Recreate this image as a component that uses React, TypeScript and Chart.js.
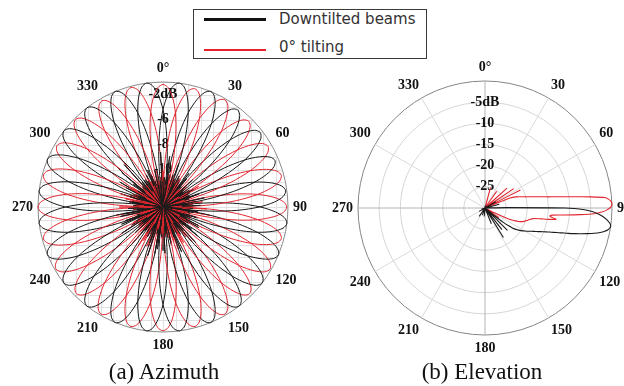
import React, { useEffect, useRef } from 'react';
import { Chart, registerables } from 'chart.js';

Chart.register(...registerables);

// ---------- shared ----------
const ANGLE_TEXT = ['0°', '30', '60', '90', '120', '150', '180', '210', '240', '270', '300', '330'];
const BLACK = '#1a1a1a';
const RED = '#e2262f';

// ---------- (a) Azimuth ----------
const AZ_STEP = 2.5;
const AZ_ANGLES = Array.from({ length: 360 / AZ_STEP }, (_, i) => i * AZ_STEP);
const AZ_MIN = -11;
const AZ_MAX = -1;
const AZ_TICK_VALUES = [-2, -4, -6, -8];
const AZ_TICK_TEXT = ['-2dB', '-6', '-8', '-10'];

const AZ_RED_DIRS = [0, 15, 30, 45, 60, 75, 90, 105, 120, 135, 150, 165, 180, 195, 210, 225, 240, 255, 270, 285, 300, 315, 330, 345];
const AZ_RED_PEAK = [-1.2, -1.2, -1.1, -1.3, -1.3, -1.2, -1.1, -1.2, -1.1, -1.2, -1.1, -1.1, -1.1, -1.1, -1.1, -1.2, -1.1, -1.1, -1.0, -1.1, -1.2, -1.1, -1.2, -1.1];
const AZ_RED_SIDE = [0.4, 0, 0.3, 0, 0.5, 0, 0.2, 0, 1.4, 0, 0.3, 0, 1.2, 0, 0.4, 0, 1.6, 0, 0.6, 0, 0.3, 0, 0.8, 0];
const AZ_BLACK_DIRS = [7.5, 22.5, 37.5, 52.5, 67.5, 82.5, 97.5, 112.5, 127.5, 142.5, 157.5, 172.5, 187.5, 202.5, 217.5, 232.5, 247.5, 262.5, 277.5, 292.5, 307.5, 322.5, 337.5, 352.5];
const AZ_BLACK_PEAK = [-1.0, -1.0, -1.2, -1.2, -1.3, -1.1, -1.0, -1.0, -1.0, -1.0, -1.0, -1.0, -1.0, -1.0, -1.0, -1.0, -1.0, -1.0, -1.0, -1.0, -1.0, -1.0, -1.0, -1.0];
const AZ_BLACK_SIDE = [0.6, 0, 0.3, 0, 0.8, 0, 1.0, 0, 0.4, 0, 1.5, 0, 0.5, 0, 1.7, 0, 0.6, 0, 1.1, 0, 0.4, 0, 2.2, 0.5];

// one beam pattern (offset from beam direction in degrees -> level); main lobe = offsets within ±15
const AZ_PATTERN_OFFSETS = [-50, -37.5, -27.5, -20, -15, -12.5, -10, -7.5, -5, -2.5, 0, 2.5, 5, 7.5, 10, 12.5, 15, 20, 30, 42.5, 180];
const AZ_PATTERN_DB = [-9.6, -9.2, -8.9, -8.6, -9.8, -7.1, -4.9, -3.2, -2.0, -1.25, -1.0, -1.25, -2.0, -3.2, -4.9, -7.1, -9.8, -8.8, -9.1, -9.5, -9.3];
const AZ_PATTERN_PEAK = -1.0;
const AZ_MAIN_HALF = 15;

// ---------- (b) Elevation ----------
const EL_ANGLES = Array.from({ length: 360 }, (_, i) => i);
const EL_MIN = -30;
const EL_MAX = 0;
const EL_TICK_VALUES = [-5, -10, -15, -20, -25];
const EL_TICK_TEXT = ['-5dB', '-10', '-15', '-20', '-25'];

const EL_BLACK_ANGLES = [60, 75, 89, 90, 91, 92, 93, 94, 95, 96, 97, 98, 99, 100, 101, 102, 103, 104, 105, 106, 107, 108, 109, 110, 111, 112, 113, 114, 115, 116, 117, 118, 119, 120, 121, 122, 123, 124, 125, 126, 127, 128, 129, 135, 142, 148, 158, 185, 200, 215, 240];
const EL_BLACK_DB = [-27, -26.5, -25, -11, -6.5, -4.5, -3.2, -2.2, -1.4, -0.8, -0.3, 0, -0.1, -0.5, -1.2, -2.2, -3.5, -5, -6.5, -8, -9.5, -11, -12.2, -13.3, -14.2, -15, -15.7, -16.3, -16.9, -17.4, -17.9, -18.3, -18.7, -19.1, -19.5, -19.9, -20.3, -20.8, -21.3, -22, -23, -24.5, -27, -22.5, -23.5, -21.8, -26, -28, -28.2, -27.6, -28.4];

const EL_RED_ANGLES = [15, 35, 48, 56, 63, 68, 69, 70, 71, 72, 73, 74, 75, 76, 77, 78, 79, 80, 81, 82, 83, 84, 85, 86, 87, 88, 89, 90, 91, 92, 93, 94, 95, 96, 97, 98, 99, 100, 101, 102, 103, 104, 105, 106, 107, 108, 109, 110, 111, 112, 113, 114, 115, 116, 117, 125];
const EL_RED_DB = [-25, -25.2, -23, -21.8, -20.6, -24, -23, -22.3, -21.9, -21.4, -20.9, -20.4, -19.8, -19, -18.2, -17.3, -16.1, -14.8, -13.1, -11, -8.3, -4.8, -1.6, -0.7, -0.2, 0, -0.1, -0.5, -1.3, -2.4, -4.2, -7.5, -11, -14, -14.6, -14, -13, -14.5, -16.5, -18, -18.6, -19, -19.3, -19.5, -19.8, -20, -20.3, -20.6, -21, -21.5, -22.2, -23, -24, -25.5, -27.5, -26];

// ---------- series builders ----------
function beamSeries(dir: number, peak: number, sideLift: number): number[] {
  const out = AZ_ANGLES.map(() => AZ_MIN);
  AZ_PATTERN_OFFSETS.forEach((off, k) => {
    const a = (((dir + off) % 360) + 360) % 360;
    const idx = Math.round(a / AZ_STEP) % AZ_ANGLES.length;
    const lift = Math.abs(off) <= AZ_MAIN_HALF ? peak - AZ_PATTERN_PEAK : sideLift;
    out[idx] = Math.max(AZ_MIN, Math.min(AZ_MAX, AZ_PATTERN_DB[k] + lift));
  });
  return out;
}

function sparseSeries(angles: number[], values: number[]): number[] {
  const out = EL_ANGLES.map(() => EL_MIN);
  angles.forEach((a, k) => { out[a] = values[k]; });
  return out;
}

const labelFont = { family: '"Liberation Serif", "Times New Roman", serif', size: 14, weight: 'bold' as const };

function pointLabelText(label: any) {
  const a = Number(label);
  return a % 30 === 0 ? ANGLE_TEXT[a / 30] : '';
}

const cartesianGrid = {
  id: 'cartesianGrid',
  beforeDraw(chart: any) {
    const s = chart.scales.r;
    const ctx = chart.ctx;
    const cx = s.xCenter, cy = s.yCenter, R = s.drawingArea;
    ctx.save();
    ctx.beginPath();
    ctx.arc(cx, cy, R, 0, Math.PI * 2);
    ctx.clip();
    ctx.strokeStyle = '#e0e0e0';
    ctx.lineWidth = 1;
    const step = R / 10;
    ctx.beginPath();
    for (let k = -10; k <= 10; k++) {
      const x = Math.round(cx + k * step) + 0.5;
      const y = Math.round(cy + k * step) + 0.5;
      ctx.moveTo(x, cy - R); ctx.lineTo(x, cy + R);
      ctx.moveTo(cx - R, y); ctx.lineTo(cx + R, y);
    }
    ctx.stroke();
    ctx.restore();
  },
};

function azimuthConfig(): any {
  const datasets: any[] = [];
  AZ_RED_DIRS.forEach((d, i) => {
    datasets.push({ label: 'black' + i, data: beamSeries(AZ_BLACK_DIRS[i], AZ_BLACK_PEAK[i], AZ_BLACK_SIDE[i]), borderColor: BLACK });
    datasets.push({ label: 'red' + i, data: beamSeries(d, AZ_RED_PEAK[i], AZ_RED_SIDE[i]), borderColor: RED });
  });
  return {
    type: 'radar',
    data: { labels: AZ_ANGLES, datasets },
    plugins: [cartesianGrid],
    options: {
      animation: false,
      responsive: false,
      events: [],
      plugins: { legend: { display: false }, tooltip: { enabled: false } },
      elements: {
        point: { radius: 0 },
        line: { tension: 0.3, borderWidth: 1, fill: false, backgroundColor: 'transparent' },
      },
      scales: {
        r: {
          min: AZ_MIN,
          max: AZ_MAX,
          startAngle: 0,
          ticks: {
            stepSize: 1,
            showLabelBackdrop: false,
            color: '#111',
            font: labelFont,
            callback: (v: number) => {
              const k = AZ_TICK_VALUES.indexOf(v);
              return k >= 0 ? AZ_TICK_TEXT[k] : '';
            },
          },
          grid: {
            circular: true,
            color: (c: any) => (c.tick && c.tick.value === AZ_MAX ? '#8a8a8a' : 'transparent'),
            lineWidth: 1,
          },
          angleLines: { display: false },
          pointLabels: { callback: pointLabelText, font: labelFont, color: '#111', padding: -4 },
        },
      },
    },
  };
}

function elevationConfig(): any {
  return {
    type: 'radar',
    data: {
      labels: EL_ANGLES,
      datasets: [
        { label: 'Downtilted beams', data: sparseSeries(EL_BLACK_ANGLES, EL_BLACK_DB), borderColor: BLACK },
        { label: '0° tilting', data: sparseSeries(EL_RED_ANGLES, EL_RED_DB), borderColor: RED },
      ],
    },
    options: {
      animation: false,
      responsive: false,
      events: [],
      plugins: { legend: { display: false }, tooltip: { enabled: false } },
      elements: {
        point: { radius: 0 },
        line: { tension: 0.2, borderWidth: 1.1, fill: false, backgroundColor: 'transparent' },
      },
      scales: {
        r: {
          min: EL_MIN,
          max: EL_MAX,
          startAngle: 0,
          ticks: {
            stepSize: 5,
            showLabelBackdrop: false,
            color: '#111',
            font: labelFont,
            callback: (v: number) => {
              const k = EL_TICK_VALUES.indexOf(v);
              return k >= 0 ? EL_TICK_TEXT[k] : '';
            },
          },
          grid: {
            circular: true,
            color: (c: any) => (c.tick && c.tick.value === EL_MAX ? '#858585' : '#d6d6d6'),
            lineWidth: 1,
          },
          angleLines: {
            color: (c: any) => (c.index % 90 === 0 ? '#b4b4b4' : c.index % 30 === 0 ? '#dadada' : 'transparent'),
            lineWidth: (c: any) => (c.index % 30 === 0 ? 1 : 0),
          },
          pointLabels: { callback: pointLabelText, font: labelFont, color: '#111', padding: -4 },
        },
      },
    },
  };
}

function PolarCanvas({ make, left, top, size }: { make: () => any; left: number; top: number; size: number }) {
  const ref = useRef<HTMLCanvasElement | null>(null);
  useEffect(() => {
    const chart = new Chart(ref.current as HTMLCanvasElement, make());
    return () => chart.destroy();
  }, []);
  return (
    <canvas
      ref={ref}
      width={size}
      height={size}
      style={{ position: 'absolute', left, top, width: size, height: size, display: 'block' }}
    />
  );
}

export default function App() {
  const captionStyle: React.CSSProperties = {
    position: 'absolute',
    width: 220,
    textAlign: 'center',
    top: 358,
    fontFamily: '"Liberation Serif", "Times New Roman", serif',
    fontSize: 23,
    lineHeight: '28px',
    color: '#111',
  };
  return (
    <div style={{ position: 'fixed', left: 0, top: 0, width: 624, height: 386, overflow: 'hidden', background: '#fff' }}>
      <PolarCanvas make={azimuthConfig} left={9} top={57} size={302} />
      <PolarCanvas make={elevationConfig} left={329} top={56} size={306} />
      <div
        style={{
          position: 'absolute', left: 193, top: 9, width: 234, height: 50, boxSizing: 'border-box',
          border: '1px solid #3a3a3a', background: '#fff',
          fontFamily: '"DejaVu Sans", sans-serif', fontSize: 15, color: '#333',
        }}
      >
        <div style={{ position: 'absolute', left: 10, top: 8, width: 62, height: 3, background: '#111' }} />
        <span style={{ position: 'absolute', left: 85, top: 0, lineHeight: '18px', whiteSpace: 'nowrap' }}>Downtilted beams</span>
        <div style={{ position: 'absolute', left: 10, top: 39, width: 62, height: 2, background: '#e8202a' }} />
        <span style={{ position: 'absolute', left: 85, top: 28, lineHeight: '18px', whiteSpace: 'nowrap' }}>0° tilting</span>
      </div>
      <div style={{ ...captionStyle, left: 54 }}>(a) Azimuth</div>
      <div style={{ ...captionStyle, left: 372 }}>(b) Elevation</div>
    </div>
  );
}
